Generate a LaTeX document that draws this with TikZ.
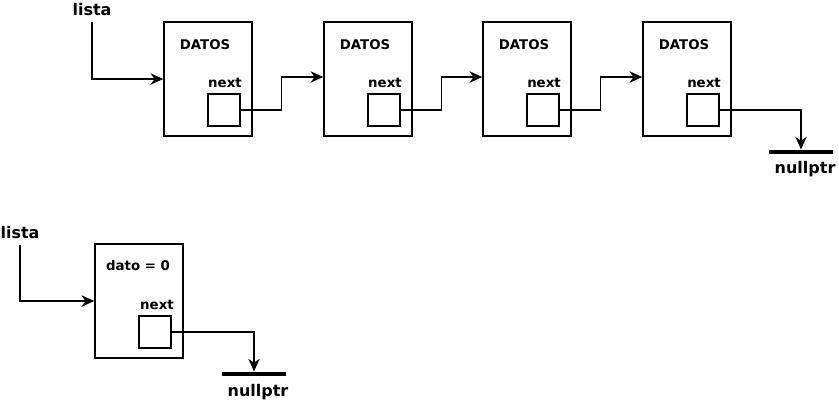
\documentclass[tikz,border=0pt]{standalone}
\usepackage{fontspec}
\setmainfont{DejaVu Sans}
\usetikzlibrary{positioning,arrows.meta}
\tikzset{
  nodo/.style={draw,line width=1.1pt,minimum width=66pt,minimum height=85.5pt,inner sep=0pt},
  caja/.style={draw,line width=1.1pt,minimum width=24pt,minimum height=24pt,inner sep=0pt},
  nulo/.style={fill=black,minimum width=48pt,minimum height=3.4pt,inner sep=0pt},
  chico/.style={font=\bfseries\fontsize{10}{12}\selectfont,inner sep=0pt},
  grande/.style={font=\bfseries\fontsize{12}{14}\selectfont,inner sep=0pt},
  flecha/.style={line width=1.1pt,-{Stealth[length=9.5pt,width=8.5pt,inset=3pt]}}
}
\begin{document}
\begin{tikzpicture}[x=0.75pt,y=-0.75pt]
		\useasboundingbox (0,0) rectangle (839,404);
		% primera lista
		\node[grande] (lista1) at (92,10) {lista};
		\node[nodo] (b1) at (208,79) {};
		\node[nodo] (b2) at (368,79) {};
		\node[nodo] (b3) at (527,79) {};
		\node[nodo] (b4) at (687,79) {};
		\node[caja] (s1) at (224,110) {};
		\node[caja] (s2) at (384,110) {};
		\node[caja] (s3) at (543,110) {};
		\node[caja] (s4) at (703,110) {};
		\node[chico] at (205,45) {DATOS};
		\node[chico] at (365,45) {DATOS};
		\node[chico] at (524,45) {DATOS};
		\node[chico] at (684,45) {DATOS};
		\node[chico] at (225,83) {next};
		\node[chico] at (385,83) {next};
		\node[chico] at (544,83) {next};
		\node[chico] at (704,83) {next};
		\node[nulo] (nul1) at (801,152) {};
		\node[grande] at (805,169) {nullptr};
		\draw[flecha,shorten <=4pt] (lista1.south) |- (b1.west);
		\draw[flecha] (s1.east) -- ++(41,0) |- ([yshift=1.5pt]b2.west);
		\draw[flecha] (s2.east) -- ++(41,0) |- ([yshift=1.5pt]b3.west);
		\draw[flecha] (s3.east) -- ++(41,0) |- ([yshift=1.5pt]b4.west);
		\draw[flecha] (s4.east) -| (nul1.north);
		% lista con un nodo
		\node[grande] (lista2) at (20,233) {lista};
		\node[nodo] (c1) at (139,301) {};
		\node[caja] (t1) at (155,332) {};
		\node[chico] at (138,266) {dato = 0};
		\node[chico] at (157,305) {next};
		\node[nulo] (nul2) at (254,374) {};
		\node[grande] at (258,392) {nullptr};
		\draw[flecha,shorten <=4pt] (lista2.south) |- (c1.west);
		\draw[flecha] (t1.east) -| (nul2.north);
		\end{tikzpicture}
\end{document}
